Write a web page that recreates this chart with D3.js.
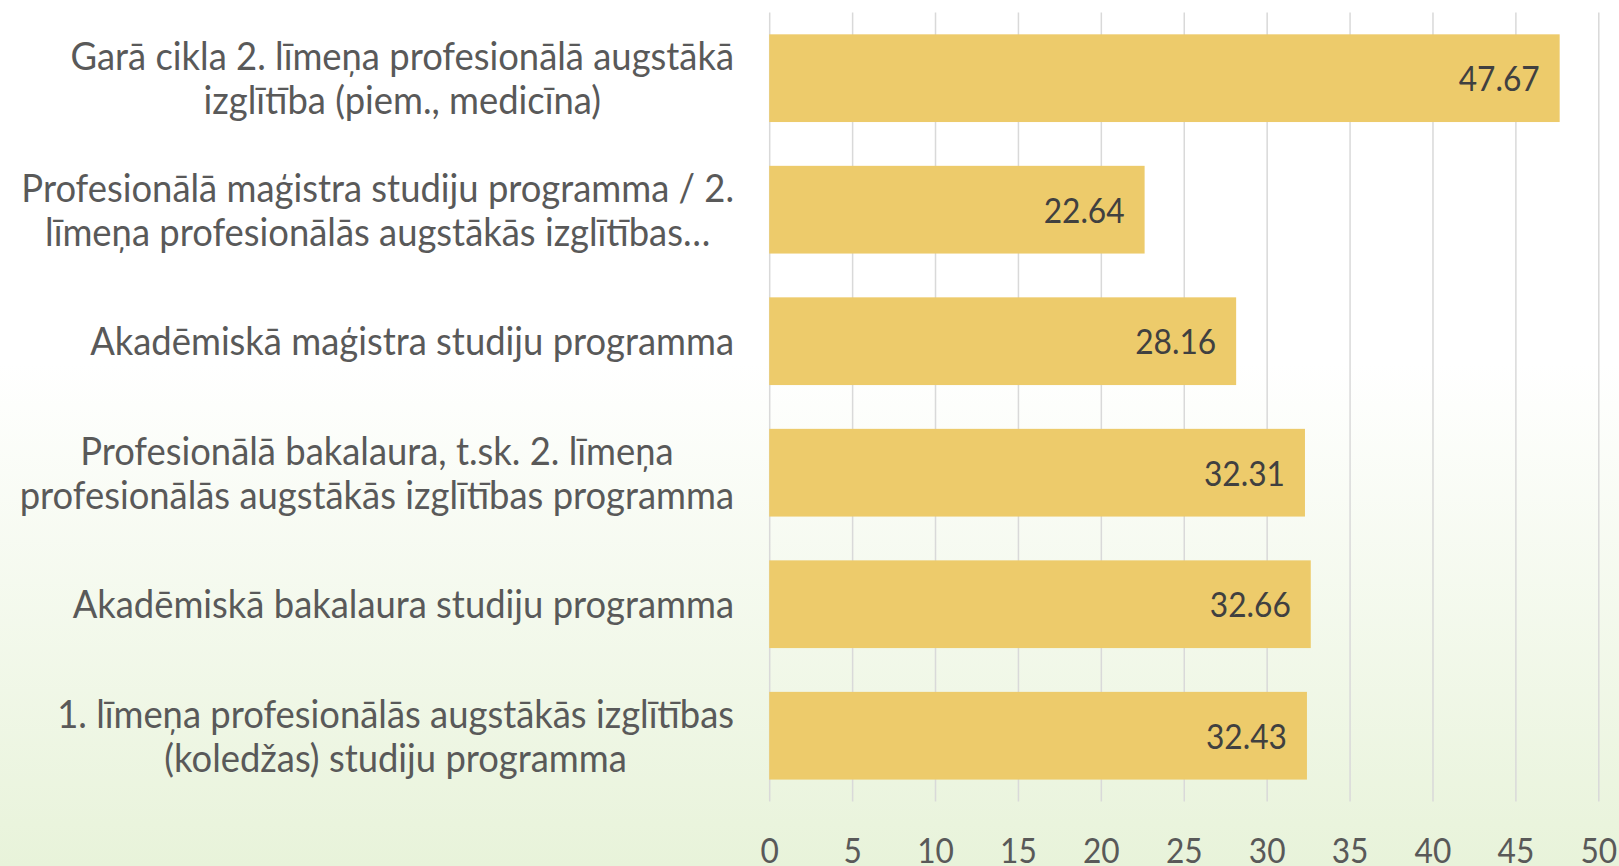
<!DOCTYPE html>
<html>
<head>
<meta charset="utf-8">
<script src="https://cdn.jsdelivr.net/npm/d3@7"></script>
<style>
html,body{margin:0;padding:0;background:#fff;}
svg{display:block;}
</style>
</head>
<body>
<script>
// ---- data ----
const categories = [
  "Garā cikla 2. līmeņa profesionālā augstākā\nizglītība (piem., medicīna)",
  "Profesionālā maģistra studiju programma / 2.\nlīmeņa profesionālās augstākās izglītības…",
  "Akadēmiskā maģistra studiju programma",
  "Profesionālā bakalaura, t.sk. 2. līmeņa\nprofesionālās augstākās izglītības programma",
  "Akadēmiskā bakalaura studiju programma",
  "1. līmeņa profesionālās augstākās izglītības\n(koledžas) studiju programma"
];
const values = [47.67, 22.64, 28.16, 32.31, 32.66, 32.43];
const xTicks = [0, 5, 10, 15, 20, 25, 30, 35, 40, 45, 50];

// ---- layout ----
const W = 1619, H = 866;
const plot = {left: 769.2, right: 1598.3, top: 12.4, bottom: 801.5};
const FONT = "Lato, 'Noto Sans', sans-serif";
const K = 1.07; // taller glyphs, compressed horizontally (narrow humanist look)

const svg = d3.select("body").append("svg").attr("width", W).attr("height", H);

const defs = svg.append("defs");
const grad = defs.append("linearGradient").attr("id", "bg").attr("x1", 0).attr("y1", 0).attr("x2", 0).attr("y2", 1);
grad.append("stop").attr("offset", "0%").attr("stop-color", "#ffffff");
grad.append("stop").attr("offset", "42%").attr("stop-color", "#ffffff");
grad.append("stop").attr("offset", "100%").attr("stop-color", "#e8f3da");
svg.append("rect").attr("width", W).attr("height", H).attr("fill", "url(#bg)");

function fitSize(str, targetWidth) {
  const t = svg.append("text").attr("font-family", FONT).attr("font-size", 100).text(str);
  const w = t.node().getComputedTextLength();
  t.remove();
  return 100 * targetWidth / w;
}
const catFs = fitSize("Akadēmiskā maģistra studiju programma", 644) * K;
const numFs = fitSize("47.67", 81) * K;
const sx = 1 / K;

const x = d3.scaleLinear().domain([0, 50]).range([plot.left, plot.right]);
const y = d3.scaleBand().domain(d3.range(categories.length)).range([plot.top, plot.bottom])
  .paddingInner(0.333).paddingOuter(0.1667);

// gridlines + axis
const axis = svg.append("g").attr("transform", `translate(0,${plot.bottom})`)
  .call(d3.axisBottom(x).tickValues(xTicks).tickFormat(d3.format("d"))
    .tickSizeInner(-(plot.bottom - plot.top)).tickSizeOuter(0));
axis.select(".domain").remove();
axis.selectAll(".tick line").attr("stroke", "#d9d9d9").attr("stroke-width", 1.5);
axis.selectAll(".tick text")
  .attr("y", 0).attr("dy", 0)
  .attr("transform", `translate(0,61.5) scale(${sx},1)`)
  .attr("font-family", FONT).attr("font-size", numFs).attr("fill", "#595959");

// bars
svg.append("g").selectAll("rect").data(values).join("rect")
  .attr("x", x(0))
  .attr("y", (d, i) => y(i))
  .attr("width", d => x(d) - x(0))
  .attr("height", y.bandwidth())
  .attr("fill", "#edcb6b");

// value labels
svg.append("g").selectAll("text").data(values).join("text")
  .attr("transform", (d, i) => `translate(${x(d) - 20},${y(i) + y.bandwidth() / 2 + 0.345 * numFs + 1.4}) scale(${sx},1)`)
  .attr("text-anchor", "end")
  .attr("font-family", FONT).attr("font-size", numFs).attr("fill", "#404040")
  .text(d => d3.format(".2f")(d));

// category labels
const lineH = 44.4;
const labelRight = 734;
const lg = svg.append("g");
categories.forEach((c, i) => {
  const lines = c.split("\n");
  const t = lg.append("text").attr("font-family", FONT).attr("font-size", catFs)
    .attr("fill", "#595959").attr("text-anchor", "middle");
  const cy = y(i) + y.bandwidth() / 2;
  lines.forEach((ln, j) => {
    t.append("tspan").text(ln).attr("x", 0)
      .attr("y", cy + (j - (lines.length - 1) / 2) * lineH + 0.31 * catFs + 2);
  });
  const maxW = d3.max(t.selectAll("tspan").nodes(), n => n.getComputedTextLength()) * sx;
  t.attr("transform", `translate(${labelRight - maxW / 2},0) scale(${sx},1)`);
});
</script>
</body>
</html>
